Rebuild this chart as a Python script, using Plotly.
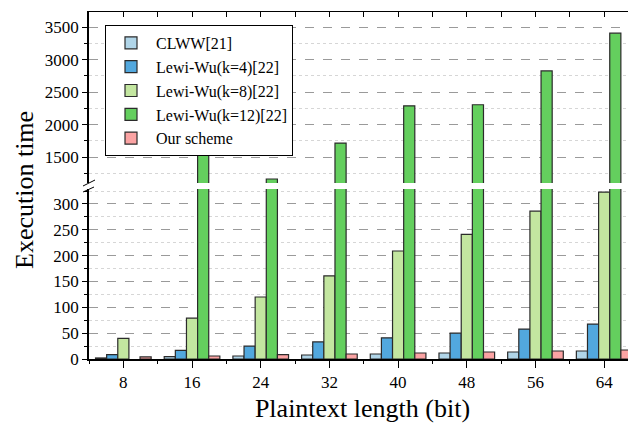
import plotly.graph_objects as go

# ---- data ----
plaintext_bits = [8, 16, 24, 32, 40, 48, 56, 64]
series_names = ["CLWW[21]", "Lewi-Wu(k=4)[22]", "Lewi-Wu(k=8)[22]", "Lewi-Wu(k=12)[22]", "Our scheme"]
clww = [2, 4.5, 5.8, 7.7, 9.7, 11.6, 13.5, 15.5]
lewiwu_k4 = [8.4, 16.7, 25, 33, 41, 50, 58, 67.6]
lewiwu_k8 = [40, 79, 120, 161, 209, 241, 286, 323]
lewiwu_k12 = [None, 1630, 1162, 1715, 2290, 2306, 2827, 3408]
our_scheme = [4, 5.8, 8.4, 9.7, 11.6, 13.5, 15.5, 17.4]
colors = ["#b0d5e8", "#52a8de", "#c3e6a0", "#64cf5e", "#fba3a3"]
minor_x_ticks = [4, 12, 20, 28, 36, 44, 52, 60]

all_series = [clww, lewiwu_k4, lewiwu_k8, lewiwu_k12, our_scheme]

FONT = "Liberation Serif, Times New Roman, serif"

fig = go.Figure()
for name, vals, col in zip(series_names, all_series, colors):
    fig.add_trace(go.Bar(x=plaintext_bits, y=vals, name=name, marker_color=col,
                         marker_line=dict(color="#2b2b2b", width=1.2),
                         xaxis="x", yaxis="y", legendgroup=name))
for name, vals, col in zip(series_names, all_series, colors):
    fig.add_trace(go.Bar(x=plaintext_bits, y=vals, name=name, marker_color=col,
                         marker_line=dict(color="#2b2b2b", width=1.2),
                         xaxis="x2", yaxis="y2", legendgroup=name, showlegend=False))

# page is offset by the default 8px body margin
OFF = 8
W, H = 636 - OFF, 425 - OFF
L, R, T, B = 89 - OFF, 0, 12 - OFF, 425 - 359
pw, ph = W - L - R, H - T - B


def px(x):  # page pixel -> paper x
    return (x - OFF - L) / pw


def py(y):  # page pixel -> paper y
    return (H - B - (y - OFF)) / ph


major_grid = dict(showgrid=True, gridcolor="#9a9a9a", griddash="dash", gridwidth=1)
minor_common = dict(showgrid=True, gridcolor="#d6d6d6", griddash="dot", gridwidth=1,
                    ticks="outside", ticklen=3, tickcolor="black")
tickfont = dict(family=FONT, size=17, color="black")

xrange_ = [4, 4 + 8 * pw / 68.69]

fig.update_layout(
    width=W, height=H,
    margin=dict(l=L, r=R, t=T, b=B),
    paper_bgcolor="white", plot_bgcolor="white",
    font=dict(family=FONT, size=17, color="black"),
    barmode="group", bargap=0.19, bargroupgap=0,
    showlegend=True,
    legend=dict(x=px(105), y=py(25), xanchor="left", yanchor="top",
                bgcolor="white", bordercolor="black", borderwidth=1,
                font=dict(family=FONT, size=16, color="black"), tracegroupgap=0,
                itemwidth=40),
    xaxis=dict(anchor="y", range=xrange_, tickmode="array", tickvals=plaintext_bits,
               ticks="outside", ticklen=7, tickcolor="black", showline=True,
               linecolor="black", linewidth=1.5, showgrid=False, zeroline=False,
               minor=dict(tickmode="array", tickvals=minor_x_ticks,
                          ticks="outside", ticklen=3, tickcolor="black", showgrid=False),
               tickfont=tickfont,
               title=dict(text="Plaintext length (bit)",
                          font=dict(family=FONT, size=26, color="black"), standoff=8)),
    xaxis2=dict(anchor="y2", matches="x", side="top", range=xrange_, tickmode="array",
                tickvals=plaintext_bits, ticks="inside", ticklen=5, tickcolor="black",
                showticklabels=False, showline=True, linecolor="black", linewidth=1,
                showgrid=False, zeroline=False,
                minor=dict(tickmode="array", tickvals=minor_x_ticks,
                           ticks="inside", ticklen=5, tickcolor="black", showgrid=False)),
    yaxis=dict(domain=[0, 0.4899], range=[0, 329], anchor="x", tick0=0, dtick=50,
               ticks="outside", ticklen=5, tickcolor="black", showline=True,
               linecolor="black", linewidth=1.5, zeroline=False, tickfont=tickfont,
               minor=dict(dtick=25, **minor_common), **major_grid),
    yaxis2=dict(domain=[0.5072, 1], range=[1100, 3735], anchor="x2", tick0=0, dtick=500,
                ticks="outside", ticklen=5, tickcolor="black", showline=True,
                linecolor="black", linewidth=1.5, zeroline=False, tickfont=tickfont,
                minor=dict(dtick=250, **minor_common), **major_grid),
    annotations=[dict(text="Execution time", xref="paper", yref="paper",
                      x=px(24), y=py(190), textangle=-90, showarrow=False,
                      font=dict(size=26, family=FONT, color="black"),
                      xanchor="center", yanchor="middle")],
    shapes=[
        dict(type="line", xref="paper", yref="paper", x0=px(83), y0=py(186), x1=px(95), y1=py(180),
             line=dict(color="black", width=1)),
        dict(type="line", xref="paper", yref="paper", x0=px(83), y0=py(192), x1=px(94), y1=py(187),
             line=dict(color="black", width=1)),
        dict(type="line", xref="paper", yref="paper", x0=px(630), y0=py(186), x1=px(636), y1=py(183),
             line=dict(color="black", width=1)),
    ],
)

fig.write_html("out.html")
